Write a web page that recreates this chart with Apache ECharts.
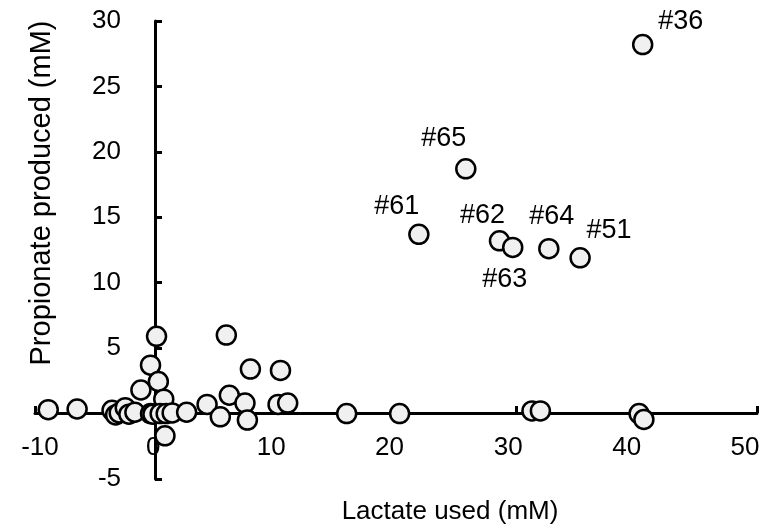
<!DOCTYPE html>
<html><head><meta charset="utf-8">
<script src="https://cdn.jsdelivr.net/npm/echarts@6/dist/echarts.min.js"></script>
<style>html,body{margin:0;padding:0;background:#fff}#c{width:772px;height:532px}</style>
</head><body><div id="c"></div>
<script>
// Lactate used (mM) per sample
const lactateUsed = [-8.9, -6.5, -3.6, -3.3, -3.0, -2.5, -2.2, -1.7, -1.2, -0.4, 0.1, 0.25, 0.7, -0.4, -0.2, 0.4, 0.8, 0.9, 1.4, 2.6, 4.3, 5.4, 5.9, 6.15, 7.45, 7.65, 7.9, 10.2, 10.4, 11.0, 15.9, 20.3, 31.3, 32.0, 40.2, 40.6, 21.9, 25.8, 28.6, 29.7, 32.7, 35.3, 40.5];
// Propionate produced (mM) per sample
const propionateProduced = [0.3, 0.35, 0.25, -0.1, 0.05, 0.45, -0.05, 0.1, 1.8, 3.7, 5.9, 2.45, 1.1, 0.0, -0.05, 0.0, -1.7, 0.0, 0.05, 0.1, 0.7, -0.25, 6.0, 1.4, 0.8, -0.5, 3.4, 0.7, 3.3, 0.8, 0.0, 0.0, 0.2, 0.2, 0.0, -0.45, 13.7, 18.7, 13.2, 12.7, 12.6, 11.9, 28.2];
// Sample labels ('' = unlabeled)
const sampleNames = ['', '', '', '', '', '', '', '', '', '', '', '', '', '', '', '', '', '', '', '', '', '', '', '', '', '', '', '', '', '', '', '', '', '', '', '', '#61', '#65', '#62', '#63', '#64', '#51', '#36'];
const xTickValues = [-10, 0, 10, 20, 30, 40, 50];
const yTickValues = [-5, 0, 5, 10, 15, 20, 25, 30];
const xTitle = 'Lactate used (mM)';
const yTitle = 'Propionate produced (mM)';

// label placement (style, not data)
const labelOffsets = {
  '#61': [-22, -28], '#65': [-22, -30], '#62': [-17, -25], '#63': [-8, 32],
  '#64': [3, -32], '#51': [29, -27], '#36': [38, -23]
};
// horizontal nudge of x tick labels in px (style)
const xLabelNudge = [5, -2, -4.5, -6.5, -8, -10, -12];

const FONT = 'Liberation Sans, Arial, sans-serif';
const data = lactateUsed.map((x, i) => {
  const name = sampleNames[i];
  const item = { value: [x, propionateProduced[i]], name: name };
  if (name) {
    item.label = { show: true, formatter: '{b}', position: 'inside', offset: labelOffsets[name] };
  }
  return item;
});

const xRich = {};
xTickValues.forEach((v, i) => {
  const n = xLabelNudge[i];
  xRich['t' + i] = {
    fontFamily: FONT, fontSize: 26, color: '#000',
    padding: n >= 0 ? [0, 0, 0, 2 * n] : [0, -2 * n, 0, 0]
  };
});

const chart = echarts.init(document.getElementById('c'), null, { renderer: 'canvas' });
chart.setOption({
  animation: false,
  backgroundColor: '#fff',
  grid: { left: 35, right: 15, top: 21, bottom: 53, containLabel: false, outerBoundsMode: 'none' },
  xAxis: {
    type: 'value', min: xTickValues[0], max: xTickValues[xTickValues.length - 1], interval: 10,
    position: 'bottom', offset: -66,
    name: xTitle, nameLocation: 'middle', nameGap: 86,
    nameTextStyle: { fontFamily: FONT, fontSize: 26, color: '#000', padding: [0, 0, 0, 108] },
    axisLine: { onZero: false, lineStyle: { color: '#000', width: 3 } },
    axisTick: { inside: true, length: 7, lineStyle: { color: '#000', width: 3 } },
    axisLabel: {
      fontFamily: FONT, fontSize: 26, color: '#000', margin: 22, showMinLabel: true, showMaxLabel: true,
      formatter: v => { const i = xTickValues.indexOf(v); return i < 0 ? String(v) : '{t' + i + '|' + v + '}'; },
      rich: xRich
    },
    splitLine: { show: false }
  },
  yAxis: {
    type: 'value', min: yTickValues[0], max: yTickValues[yTickValues.length - 1], interval: 5,
    position: 'left', offset: -120,
    name: yTitle, nameLocation: 'middle', nameGap: 99,
    nameTextStyle: { fontFamily: FONT, fontSize: 29, color: '#000', padding: [0, 0, 0, 114] },
    axisLine: { onZero: false, lineStyle: { color: '#000', width: 3 } },
    axisTick: { inside: true, length: 7, lineStyle: { color: '#000', width: 3 } },
    axisLabel: { fontFamily: FONT, fontSize: 26, color: '#000', margin: 34, formatter: v => (v === 0 ? '' : String(v)) },
    splitLine: { show: false }
  },
  series: [{
    type: 'scatter',
    data: data,
    symbol: 'circle',
    symbolSize: 19,
    itemStyle: { color: '#f0f0f0', borderColor: '#000', borderWidth: 2.5, opacity: 1 },
    label: { show: false, fontFamily: FONT, fontSize: 27, color: '#000' },
    emphasis: { disabled: true }
  }]
});
</script>
</body></html>
